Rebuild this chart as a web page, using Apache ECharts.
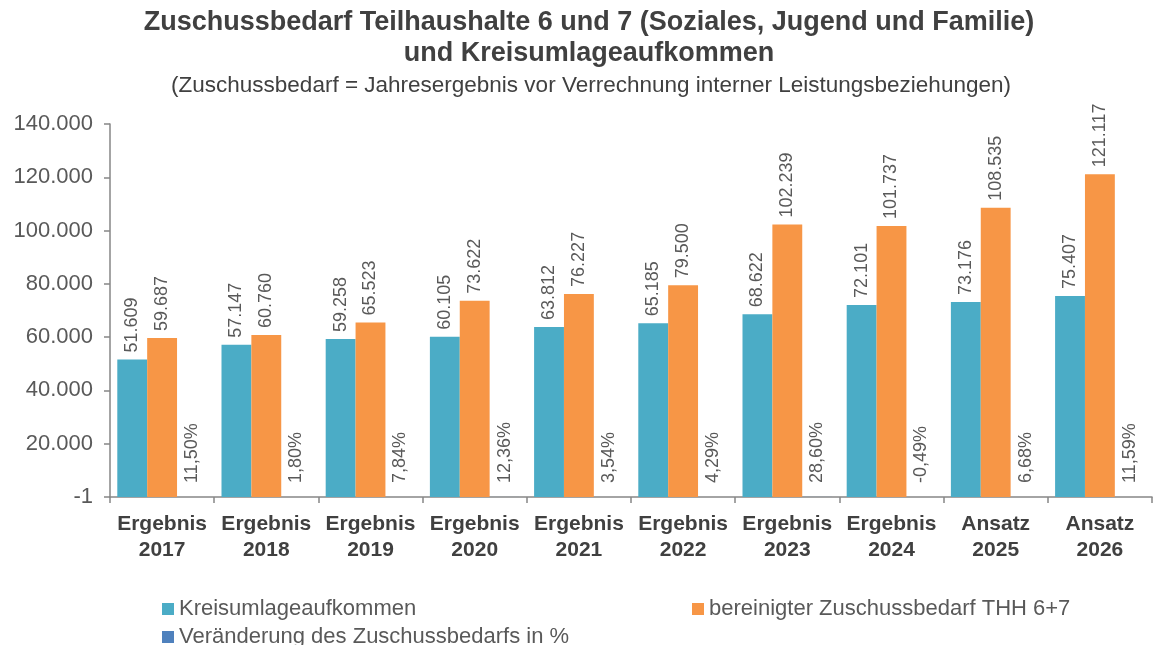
<!DOCTYPE html>
<html>
<head>
<meta charset="utf-8">
<script src="https://cdn.jsdelivr.net/npm/echarts@6/dist/echarts.min.js"></script>
<style>html,body{margin:0;padding:0;background:#fff;}#c{width:1155px;height:645px;}</style>
</head>
<body>
<div id="c"></div>
<script>
const categories = ['Ergebnis\n2017','Ergebnis\n2018','Ergebnis\n2019','Ergebnis\n2020','Ergebnis\n2021','Ergebnis\n2022','Ergebnis\n2023','Ergebnis\n2024','Ansatz\n2025','Ansatz\n2026'];
const kreisumlage = [51609, 57147, 59258, 60105, 63812, 65185, 68622, 72101, 73176, 75407];
const zuschuss = [59687, 60760, 65523, 73622, 76227, 79500, 102239, 101737, 108535, 121117];
const veraenderung = [11.50, 1.80, 7.84, 12.36, 3.54, 4.29, 28.60, -0.49, 6.68, 11.59];
const yTickLabels = ['-1','20.000','40.000','60.000','80.000','100.000','120.000','140.000'];

const FONT = '"Liberation Sans", Arial, sans-serif';
const fmtNum = v => String(Math.round(v)).replace(/\B(?=(\d{3})+(?!\d))/g, '.');
const fmtPct = v => v.toFixed(2).replace('.', ',') + '%';

const chart = echarts.init(document.getElementById('c'), null, {renderer: 'canvas'});
const valLabel = (fmt, dist) => ({
  show: true, position: 'top', rotate: 90, align: 'left', verticalAlign: 'middle',
  distance: dist, color: '#595959', fontSize: 18, fontFamily: FONT,
  formatter: p => fmt(p.value)
});
chart.setOption({
  animation: false,
  backgroundColor: '#fff',
  title: [
    {text: 'Zuschussbedarf Teilhaushalte 6 und 7 (Soziales, Jugend und Familie)\nund Kreisumlageaufkommen',
     left: 584, textAlign: 'center', top: 2,
     textStyle: {fontFamily: FONT, fontWeight: 'bold', fontSize: 27, lineHeight: 31, color: '#404040'}},
    {text: '(Zuschussbedarf = Jahresergebnis vor Verrechnung interner Leistungsbeziehungen)',
     left: 586, textAlign: 'center', top: 69,
     textStyle: {fontFamily: FONT, fontWeight: 'normal', fontSize: 22.5, color: '#404040'}}
  ],
  legend: [
    {data: ['Kreisumlageaufkommen'], left: 157, top: 593, itemWidth: 12, itemHeight: 12, icon: 'rect',
     textStyle: {fontFamily: FONT, fontSize: 22, color: '#595959'}},
    {data: ['bereinigter Zuschussbedarf THH 6+7'], left: 687, top: 593, itemWidth: 12, itemHeight: 12, icon: 'rect',
     textStyle: {fontFamily: FONT, fontSize: 22, color: '#595959'}},
    {data: ['Veränderung des Zuschussbedarfs in %'], left: 157, top: 621, itemWidth: 12, itemHeight: 12, icon: 'rect',
     textStyle: {fontFamily: FONT, fontSize: 22, color: '#595959'}}
  ],
  grid: {left: 110, right: 3, top: 124, bottom: 148, containLabel: false},
  xAxis: {
    type: 'category', data: categories,
    axisLine: {lineStyle: {color: '#868686', width: 1.5}},
    axisTick: {show: true, length: 6, lineStyle: {color: '#868686', width: 1.5}},
    axisLabel: {fontFamily: FONT, fontWeight: 'bold', fontSize: 21, color: '#404040', lineHeight: 26, margin: 14, interval: 0}
  },
  yAxis: {
    type: 'value', min: 0, max: 140000, interval: 20000,
    splitLine: {show: false},
    axisLine: {show: true, lineStyle: {color: '#868686', width: 1.5}},
    axisTick: {show: true, length: 6, lineStyle: {color: '#868686', width: 1.5}},
    axisLabel: {fontFamily: FONT, fontSize: 22, color: '#595959', margin: 17,
      formatter: v => yTickLabels[Math.round(v / 20000)]}
  },
  series: [
    {name: 'Kreisumlageaufkommen', type: 'bar', data: kreisumlage, barGap: '0%', barCategoryGap: '14%',
     itemStyle: {color: '#4BACC6'}, label: valLabel(fmtNum, 7)},
    {name: 'bereinigter Zuschussbedarf THH 6+7', type: 'bar', data: zuschuss, barGap: '0%', barCategoryGap: '14%',
     itemStyle: {color: '#F79646'}, label: valLabel(fmtNum, 7)},
    {name: 'Veränderung des Zuschussbedarfs in %', type: 'bar', data: veraenderung, barGap: '0%', barCategoryGap: '14%',
     itemStyle: {color: '#4F81BD'}, label: valLabel(fmtPct, 14)}
  ]
});
</script>
</body>
</html>
